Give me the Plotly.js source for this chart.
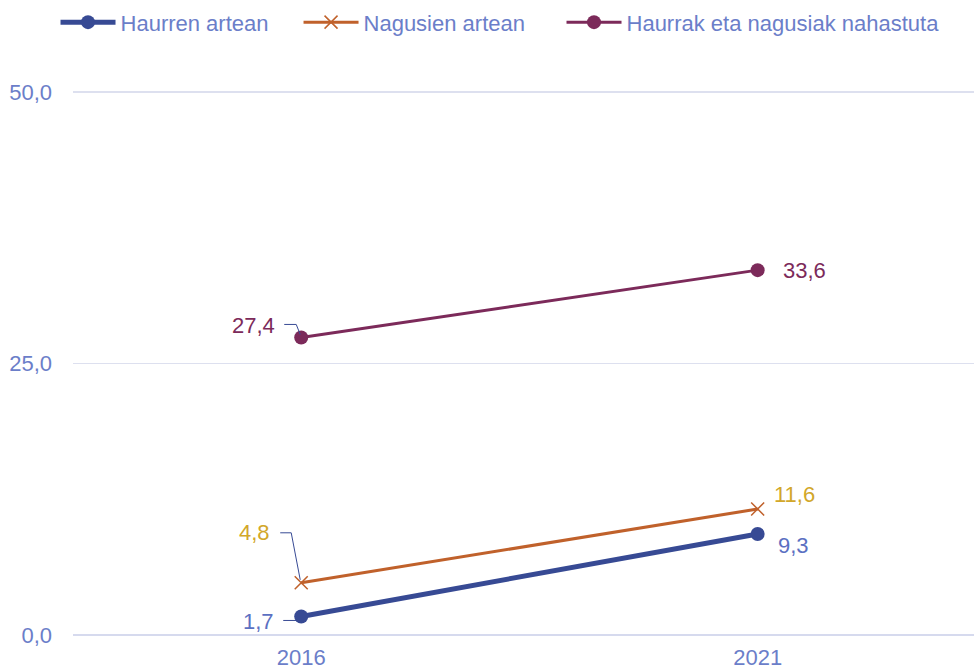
<!DOCTYPE html>
<html>
<head>
<meta charset="utf-8">
<script src="https://cdn.plot.ly/plotly-3.0.1.min.js"></script>
<style>html,body{margin:0;padding:0;background:#fff;}#chart{width:974px;height:671px;}</style>
</head>
<body>
<div id="chart"></div>
<script>
var years = [2016, 2021];
var seriesNames = ['Haurren artean', 'Nagusien artean', 'Haurrak eta nagusiak nahastuta'];
var haurren = [1.7, 9.3];
var nagusien = [4.8, 11.6];
var nahastuta = [27.4, 33.6];
var yTicks = [0, 25, 50];

var FONT = 'Liberation Sans, Arial, Helvetica, sans-serif';
var FS = 22;
var TXT = '#6b7ec9';
var C_BLUE = '#374a94';
var C_ORANGE = '#c0612b';
var C_MAROON = '#7c2a5a';
var C_GOLD = '#d2a72a';
var C_LBL_BLUE = '#5b70c2';

function fmt(v){ return v.toFixed(1).replace('.', ','); }

var traces = [
  {x: years, y: haurren, name: seriesNames[0], legend: 'legend', type: 'scatter', mode: 'lines+markers',
   line: {color: C_BLUE, width: 5}, marker: {symbol: 'circle', size: 14, color: C_BLUE}},
  {x: years, y: nagusien, name: seriesNames[1], legend: 'legend2', type: 'scatter', mode: 'lines+markers',
   line: {color: C_ORANGE, width: 3}, marker: {symbol: 'x-thin', size: 13, line: {color: C_ORANGE, width: 1.5}, color: C_ORANGE}},
  {x: years, y: nahastuta, name: seriesNames[2], legend: 'legend3', type: 'scatter', mode: 'lines+markers',
   line: {color: C_MAROON, width: 3}, marker: {symbol: 'circle', size: 14, color: C_MAROON}}
];

var labelSpec = [
  {vals: haurren, color: C_LBL_BLUE, pos: [{xa:'right', dx:-25, dy:-5}, {xa:'left', dx:18, dy:-12}]},
  {vals: nagusien, color: C_GOLD, pos: [{xa:'right', dx:-29, dy:50}, {xa:'left', dx:14, dy:14}]},
  {vals: nahastuta, color: C_MAROON, pos: [{xa:'right', dx:-24, dy:12}, {xa:'left', dx:23, dy:0}]}
];
var annotations = [];
labelSpec.forEach(function(s){
  s.vals.forEach(function(v, i){
    var p = s.pos[i];
    annotations.push({x: years[i], y: v, xref: 'x', yref: 'y', text: fmt(v), showarrow: false,
      xanchor: p.xa, yanchor: 'middle', xshift: p.dx, yshift: p.dy,
      font: {family: FONT, size: FS, color: s.color}});
  });
});

var leaderPaths = [
  {v: nahastuta[0], path: 'M-17,13 L-5,13 L-1,3'},
  {v: nagusien[0], path: 'M-21,50 L-10,50 L-1,3'},
  {v: haurren[0], path: 'M-18,-4 L-5,-4'}
];
var shapes = leaderPaths.map(function(l){
  return {type: 'path', xref: 'x', yref: 'y', xsizemode: 'pixel', ysizemode: 'pixel',
    xanchor: years[0], yanchor: l.v, path: l.path, line: {color: C_BLUE, width: 1}, layer: 'above'};
});

function legendAt(x){
  return {orientation: 'h', xref: 'container', x: x, xanchor: 'left', y: 0.998, yref: 'container', yanchor: 'top',
    font: {family: FONT, size: FS, color: TXT}, itemwidth: 55, bgcolor: 'rgba(0,0,0,0)'};
}

var layout = {
  width: 974, height: 671,
  margin: {l: 73, r: 0, t: 91, b: 35, pad: 0, autoexpand: false},
  paper_bgcolor: '#ffffff', plot_bgcolor: '#ffffff',
  separators: ',.',
  font: {family: FONT, size: FS, color: TXT},
  showlegend: true,
  legend: legendAt(0.057),
  legend2: legendAt(0.3065),
  legend3: legendAt(0.5765),
  xaxis: {type: 'linear', range: [2013.5, 2023.37], tickvals: years, ticktext: years.map(String),
    showgrid: false, zeroline: false, showline: false, ticks: '', ticklabelstandoff: 6,
    tickfont: {family: FONT, size: FS, color: TXT}, fixedrange: true},
  yaxis: {range: [-0.1, 50.1], tickvals: yTicks, tickformat: '.1f', showgrid: true, gridcolor: '#dde0ef', gridwidth: 1.5,
    zeroline: true, zerolinecolor: '#d6daee', zerolinewidth: 2.5, showline: false, ticks: '', ticklabelstandoff: 20,
    tickfont: {family: FONT, size: FS, color: TXT}, fixedrange: true},
  annotations: annotations,
  shapes: shapes
};

Plotly.newPlot('chart', traces, layout, {displayModeBar: false, staticPlot: true});
</script>
</body>
</html>
